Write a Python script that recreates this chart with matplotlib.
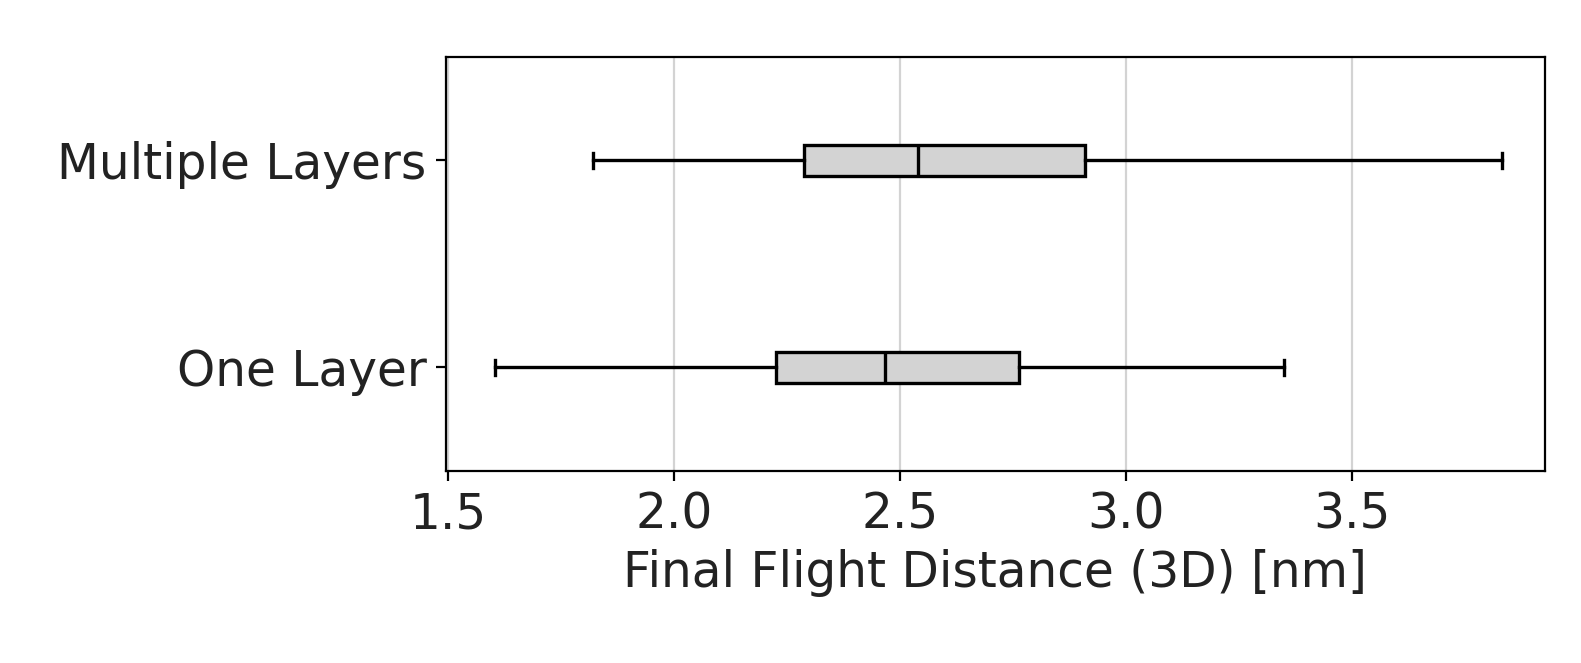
import matplotlib
matplotlib.use("Agg")
import matplotlib.pyplot as plt

labels = ['One Layer', 'Multiple Layers']
whislo = [1.604, 1.82]
q1 = [2.225, 2.287]
med = [2.466, 2.539]
q3 = [2.764, 2.908]
whishi = [3.350, 3.831]

stats = [dict(label=l, whislo=a, q1=b, med=c, q3=d, whishi=e, fliers=[])
         for l, a, b, c, d, e in zip(labels, whislo, q1, med, q3, whishi)]

fig, ax = plt.subplots(figsize=(7.905, 3.315), dpi=200)
ax.bxp(stats, vert=False, widths=0.15, patch_artist=True,
       boxprops=dict(facecolor='lightgray', edgecolor='black', linewidth=1.2),
       medianprops=dict(color='black', linewidth=1.2),
       whiskerprops=dict(linewidth=1.2), capprops=dict(linewidth=1.2, markersize=4))
for cap in ax.lines:
    pass
ax.set_xlim(1.495, 3.926)
ax.set_ylim(0.5, 2.5)
ax.set_xticks([1.5, 2.0, 2.5, 3.0, 3.5])
ax.grid(axis='x', color='lightgray', linewidth=0.8)
ax.set_axisbelow(True)
ax.tick_params(labelsize=17.5, labelcolor='#222222')
ax.set_xlabel('Final Flight Distance (3D) [nm]', fontsize=17.5, color='#222222')
fig.subplots_adjust(left=0.282, right=0.977, top=0.914, bottom=0.29)
fig.savefig('out.png')
